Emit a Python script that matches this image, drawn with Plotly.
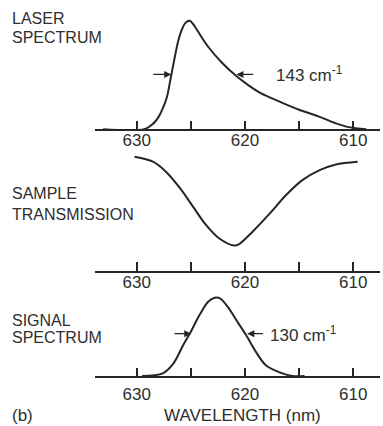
import plotly.graph_objects as go

# ---------------- data ----------------
laser_nm = [633.1, 629.3, 628.5, 628.0, 627.6, 627.2, 626.9, 626.55, 626.2, 625.9, 625.5,
            625.1, 624.8, 624.4, 623.4, 622.1, 620.8, 619.6, 618.5, 616.8, 615.0, 613.1,
            611.6, 610.4, 608.8]
laser_val = [0, 0, 0.05, 0.11, 0.19, 0.30, 0.45, 0.63, 0.80, 0.90, 0.98,
             1.0, 0.97, 0.91, 0.76, 0.61, 0.49, 0.40, 0.33, 0.255, 0.18, 0.115,
             0.055, 0.02, 0]

sample_nm = [630.2, 628.5, 627.3, 626.0, 624.8, 623.6, 622.4, 621.0, 620.5, 619.3, 617.7,
             616.2, 614.7, 613.1, 611.6, 609.6]
sample_val = [1.0, 0.956, 0.868, 0.723, 0.561, 0.400, 0.283, 0.22, 0.235, 0.341, 0.502,
              0.663, 0.794, 0.882, 0.932, 0.956]

signal_nm = [629.5, 627.6, 626.6, 625.7, 625.0, 624.2, 623.4, 622.8, 622.3, 621.6, 620.7,
             619.9, 619.0, 618.1, 616.8, 615.6, 614.5]
signal_val = [0, 0.034, 0.162, 0.396, 0.566, 0.779, 0.949, 1.0, 0.992, 0.885, 0.693,
              0.524, 0.311, 0.141, 0.047, 0.0, 0]

tick_vals = [630, 625, 620, 615, 610]
tick_text = ["630", "", "620", "", "610"]

# FWHM markers: (tail, head) wavelengths and the level
laser_fwhm_left = [628.6, 626.8]
laser_fwhm_right = [619.1, 620.8]
laser_fwhm_level = 0.505
laser_fwhm_label = "143 cm<sup>-1</sup>"
signal_fwhm_left = [626.65, 624.95]
signal_fwhm_right = [618.2, 619.8]
signal_fwhm_level = 0.54
signal_fwhm_label = "130 cm<sup>-1</sup>"

panel_titles = [["LASER", "SPECTRUM"], ["SAMPLE", "TRANSMISSION"], ["SIGNAL", "SPECTRUM"]]
x_title = "WAVELENGTH (nm)"
panel_tag = "(b)"

# ---------------- layout helpers ----------------
W, H = 383, 426
INK = "#262626"
TXT = "#2e2e2e"
FONT = "Liberation Sans"
FS = 17
FST = 16
XR = [633.85, 607.53]
XDOM = [95 / W, 380 / W]
TOPV = 1.06


def ydom(zero_px, one_px):
    scale = zero_px - one_px
    top = one_px - (TOPV - 1) * scale
    return [1 - zero_px / H, 1 - top / H]


fig = go.Figure()
series = [(laser_nm, laser_val), (sample_nm, sample_val), (signal_nm, signal_val)]
for i, (xs, ys) in enumerate(series):
    n = "" if i == 0 else str(i + 1)
    fig.add_trace(go.Scatter(x=xs, y=ys, mode="lines", xaxis="x" + n, yaxis="y" + n,
                             line=dict(color=INK, width=2, shape="spline", smoothing=0.9),
                             hoverinfo="skip", showlegend=False))

panels = [(129.3, 20.7, 9, -6), (270.5, 156.7, 9, -5), (376.0, 297.7, 8, 2)]
lay = {}
for i, (z, o, tl, stand) in enumerate(panels):
    n = "" if i == 0 else str(i + 1)
    lay["xaxis" + n] = dict(domain=XDOM, range=XR, anchor="y" + n, showgrid=False,
                            zeroline=False, showline=True, linecolor=INK, linewidth=1.6,
                            ticks="inside", ticklen=tl, tickwidth=1.5, tickcolor=INK,
                            tickvals=tick_vals, ticktext=tick_text,
                            ticklabelstandoff=stand,
                            tickfont=dict(family=FONT, size=FS, color=TXT),
                            fixedrange=True)
    lay["yaxis" + n] = dict(domain=ydom(z, o), range=[0, TOPV], anchor="x" + n,
                            visible=False, fixedrange=True)

ann = []
title_px = [(19, 37.5), (193, 215), (320, 337)]
for (a, b), (ya, yb) in zip(panel_titles, title_px):
    for t, yy in ((a, ya), (b, yb)):
        ann.append(dict(text=t, x=10 / W, y=1 - yy / H, xref="paper", yref="paper",
                        xanchor="left", yanchor="middle", showarrow=False,
                        font=dict(family=FONT, size=FST, color=TXT)))


def arrow(xref, yref, tail, head, level):
    return dict(x=head, y=level, ax=tail, ay=level, xref=xref, yref=yref,
                axref=xref, ayref=yref, text="", showarrow=True, arrowhead=2,
                arrowsize=1.1, arrowwidth=1.3, arrowcolor=INK, standoff=0)


ann += [arrow("x", "y", *laser_fwhm_left, laser_fwhm_level),
        arrow("x", "y", *laser_fwhm_right, laser_fwhm_level),
        dict(text=laser_fwhm_label, x=617.3, y=laser_fwhm_level, xref="x", yref="y",
             xanchor="left", yanchor="middle", showarrow=False,
             font=dict(family=FONT, size=FS, color=TXT)),
        arrow("x3", "y3", *signal_fwhm_left, signal_fwhm_level),
        arrow("x3", "y3", *signal_fwhm_right, signal_fwhm_level),
        dict(text=signal_fwhm_label, x=617.9, y=signal_fwhm_level, xref="x3", yref="y3",
             xanchor="left", yanchor="middle", showarrow=False,
             font=dict(family=FONT, size=FS, color=TXT)),
        dict(text=x_title, x=242.5 / W, y=1 - 415.5 / H, xref="paper", yref="paper",
             xanchor="center", yanchor="middle", showarrow=False,
             font=dict(family=FONT, size=FS, color=TXT)),
        dict(text=panel_tag, x=10 / W, y=1 - 415 / H, xref="paper", yref="paper",
             xanchor="left", yanchor="middle", showarrow=False,
             font=dict(family=FONT, size=FS, color=TXT))]

fig.update_layout(width=W, height=H, margin=dict(l=0, r=0, t=0, b=0),
                  paper_bgcolor="white", plot_bgcolor="white",
                  annotations=ann, **lay)

fig.write_html("out.html", config={"displayModeBar": False})
